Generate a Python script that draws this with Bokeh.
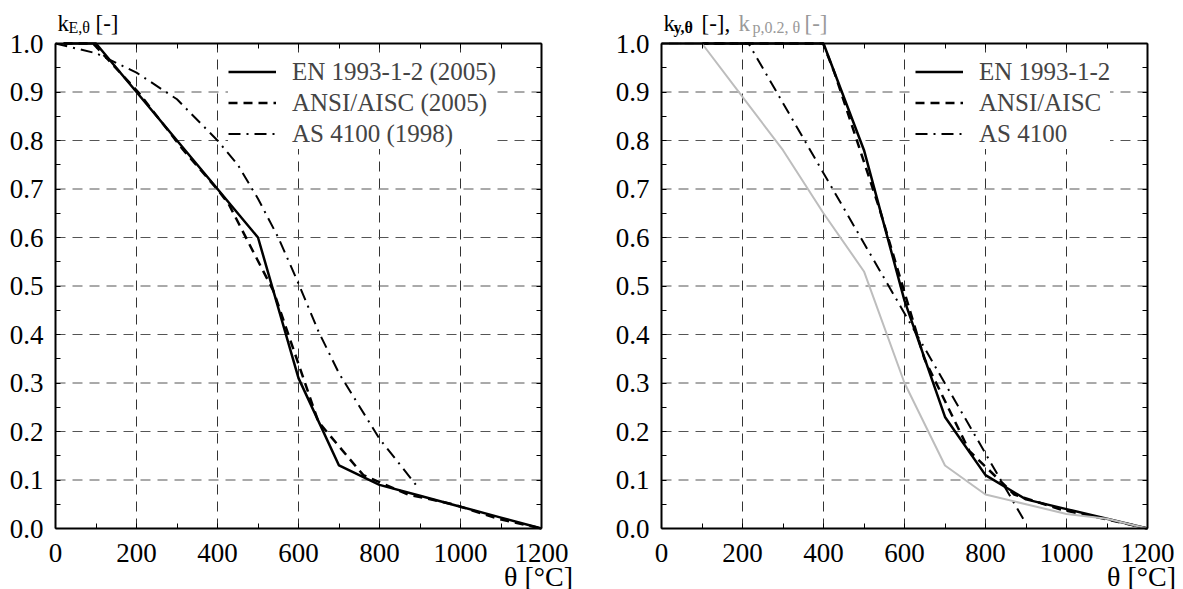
from bokeh.plotting import figure
from bokeh.models import (Range1d, LinearAxis, FixedTicker, Legend, LegendItem,
                          Label, PrintfTickFormatter)
from bokeh.layouts import row
from bokeh.embed import file_html
from bokeh.resources import INLINE

# ---------------- data ----------------
x_ticks = [0, 200, 400, 600, 800, 1000, 1200]
x_minor = [100, 300, 500, 700, 900, 1100]
y_ticks = [0.0, 0.1, 0.2, 0.3, 0.4, 0.5, 0.6, 0.7, 0.8, 0.9, 1.0]
y_minor = [0.05, 0.15, 0.25, 0.35, 0.45, 0.55, 0.65, 0.75, 0.85, 0.95]

# left panel: k_E,theta
en_T = [20, 100, 200, 300, 400, 500, 600, 700, 800, 900, 1000, 1100, 1200]
en_kE = [1.0, 1.0, 0.9, 0.8, 0.7, 0.6, 0.31, 0.13, 0.09, 0.0675, 0.045, 0.0225, 0.0]
aisc_T = [20, 93, 204, 316, 399, 427, 538, 649, 760, 871, 982, 1093, 1200]
aisc_kE = [1.0, 1.0, 0.9, 0.78, 0.70, 0.67, 0.49, 0.22, 0.11, 0.07, 0.05, 0.02, 0.0]
as_T_E = [0, 100, 200, 300, 400, 450, 500, 550, 600, 650, 700, 800, 890]
as_kE = [1.0, 0.98, 0.94, 0.885, 0.80, 0.75, 0.68, 0.60, 0.505, 0.405, 0.32, 0.185, 0.09]

# right panel: k_y,theta and k_p0.2,theta
en_ky = [1.0, 1.0, 1.0, 1.0, 1.0, 0.78, 0.47, 0.23, 0.11, 0.06, 0.04, 0.02, 0.0]
en_kp = [1.0, 1.0, 0.89, 0.78, 0.65, 0.53, 0.30, 0.13, 0.07, 0.05, 0.03, 0.02, 0.0]
aisc_ky = [1.0, 1.0, 1.0, 1.0, 1.0, 0.94, 0.66, 0.35, 0.16, 0.07, 0.04, 0.02, 0.0]
as_T_y = [0, 215, 900]
as_ky = [1.0, 1.0, 0.01]

labels_left = ["EN 1993-1-2 (2005)", "ANSI/AISC (2005)", "AS 4100 (1998)"]
labels_right = ["EN 1993-1-2", "ANSI/AISC", "AS 4100"]

FONT = "Liberation Serif"
H = 589
PLOT_W = 486   # pixel width of the data area
PLOT_H = 485   # pixel height of the data area
TOP = 43       # pixels above the data area
BOTTOM = 61    # pixels below the data area


def make_fig(width, left, right):
    xr = Range1d(-left * 1200 / PLOT_W, 1200 + right * 1200 / PLOT_W)
    yr = Range1d(-BOTTOM / PLOT_H, 1 + TOP / PLOT_H)
    p = figure(width=width, height=H, x_range=xr, y_range=yr,
               x_axis_type=None, y_axis_type=None,
               output_backend="svg", toolbar_location=None,
               min_border_left=0, min_border_right=0, min_border_top=0, min_border_bottom=0)
    p.title.visible = False
    p.outline_line_color = None
    p.background_fill_color = "white"
    p.border_fill_color = "white"

    # dashed grid
    gx = x_ticks[1:-1]
    p.segment(x0=gx, y0=[0] * len(gx), x1=gx, y1=[1] * len(gx),
              line_color="#333333", line_width=1, line_dash="10 7")
    gy = y_ticks[1:-1]
    p.segment(x0=[0] * len(gy), y0=gy, x1=[1200] * len(gy), y1=gy,
              line_color="#555555", line_width=1, line_dash="10 7")

    bottom = LinearAxis(fixed_location=0, bounds=(0, 1200),
                        ticker=FixedTicker(ticks=x_ticks, minor_ticks=x_minor))
    top = LinearAxis(fixed_location=1, bounds=(0, 1200),
                     ticker=FixedTicker(ticks=x_ticks, minor_ticks=x_minor),
                     major_label_overrides={t: "" for t in x_ticks})
    left_ax = LinearAxis(fixed_location=0, bounds=(0, 1),
                         ticker=FixedTicker(ticks=y_ticks, minor_ticks=y_minor),
                         formatter=PrintfTickFormatter(format="%.1f"))
    right_ax = LinearAxis(fixed_location=1200, bounds=(0, 1),
                          ticker=FixedTicker(ticks=y_ticks, minor_ticks=y_minor),
                          major_label_overrides={t: "" for t in y_ticks})
    p.add_layout(bottom, "below")
    p.add_layout(top, "above")
    p.add_layout(left_ax, "left")
    p.add_layout(right_ax, "right")
    for ax in [bottom, top, left_ax, right_ax]:
        ax.axis_line_width = 2
        ax.axis_line_color = "black"
        ax.major_tick_in = 5
        ax.major_tick_out = 0
        ax.minor_tick_in = 5
        ax.minor_tick_out = 0
        ax.major_tick_line_color = "black"
        ax.minor_tick_line_color = "black"
        ax.major_label_text_font = FONT
        ax.major_label_text_font_size = "27px"
        ax.major_label_text_color = "black"
    top.major_label_text_font_size = "1px"
    right_ax.major_label_text_font_size = "1px"
    bottom.major_label_standoff = 15
    left_ax.major_label_standoff = 12
    return p


def add_legend(p, items, xloc):
    leg = Legend(items=items, location=(xloc, 440), label_text_font=FONT,
                 label_text_font_size="25px", glyph_width=48, glyph_height=31,
                 label_height=31, spacing=0, padding=10, margin=0, label_standoff=16,
                 border_line_color=None, background_fill_color="white",
                 background_fill_alpha=1.0)
    p.add_layout(leg)


def lbl(p, x, y, text, size, color="black", style="normal", align="left"):
    p.add_layout(Label(x=x, y=y, x_units="screen", y_units="screen", text=text,
                       text_font=FONT, text_font_size=size, text_color=color,
                       text_font_style=style, text_baseline="alphabetic",
                       text_align=align))


# ---------------- left ----------------
p1 = make_fig(591, 55, 50)
r1 = p1.line(en_T, en_kE, line_color="black", line_width=2.5)
r2 = p1.line(aisc_T, aisc_kE, line_color="black", line_width=2.5, line_dash="9 6")
r3 = p1.line(as_T_E, as_kE, line_color="black", line_width=2, line_dash="12 6 2 6")
add_legend(p1, [LegendItem(label=labels_left[0], renderers=[r1]),
                LegendItem(label=labels_left[1], renderers=[r2]),
                LegendItem(label=labels_left[2], renderers=[r3])], 228)
lbl(p1, 57, 566, "k", "23px")
lbl(p1, 68, 562, "E,θ", "16px")
lbl(p1, 95, 566, "[-]", "23px")
lbl(p1, 538, 13, "θ [°C]", "28px", align="center")

# ---------------- right ----------------
p2 = make_fig(592, 70, 36)
s1 = p2.line(en_T, en_ky, line_color="black", line_width=2.5)
s2 = p2.line(aisc_T, aisc_ky, line_color="black", line_width=2.5, line_dash="9 6")
s3 = p2.line(as_T_y, as_ky, line_color="black", line_width=2, line_dash="12 6 2 6")
s4 = p2.line(en_T, en_kp, line_color="#bdbdbd", line_width=2)
add_legend(p2, [LegendItem(label=labels_right[0], renderers=[s1]),
                LegendItem(label=labels_right[1], renderers=[s2]),
                LegendItem(label=labels_right[2], renderers=[s3])], 324)
lbl(p2, 72, 566, "k", "23px")
lbl(p2, 82, 562, "y,θ", "16px", style="bold")
lbl(p2, 110, 566, "[-],", "23px")
lbl(p2, 147, 566, "k", "23px", color="#999999")
lbl(p2, 161, 562, "p,0.2, θ", "16px", color="#999999")
lbl(p2, 213, 566, "[-]", "23px", color="#999999")
lbl(p2, 550, 13, "θ [°C]", "28px", align="center")

layout = row(p1, p2)
open("out.html", "w").write(file_html(layout, INLINE))
